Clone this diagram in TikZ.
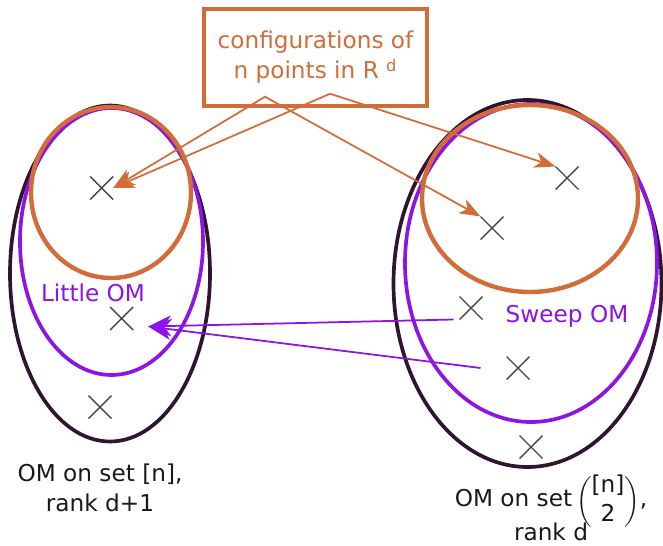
\documentclass[tikz,border=0pt]{standalone}
\usepackage{amsmath}
\usepackage{fontspec}
\setmainfont{DejaVu Sans}
\usetikzlibrary{arrows.meta,shapes.misc}
\definecolor{arancio}{RGB}{210,108,56}
\definecolor{viola}{RGB}{140,20,230}
\definecolor{prugna}{RGB}{48,20,48}
\definecolor{grigio}{RGB}{70,70,70}
\definecolor{testo}{RGB}{25,25,25}

\tikzset{
  punto/.style={cross out, draw=grigio, line width=0.8pt, minimum size=0.46cm, inner sep=0pt, outer sep=0pt},
  freccia/.style={arancio, line width=1pt, {Stealth[length=12pt,width=10pt,inset=3.5pt]}-{Stealth[length=12pt,width=9pt,inset=3.5pt]}},
  frecciaom/.style={viola, line width=1pt, -{Stealth[length=13pt,width=12pt,inset=4pt]}},
  etichetta/.style={font=\fontsize{13.2}{17}\selectfont, align=center, text=testo},
}

\begin{document}
\begin{tikzpicture}[x=0.02cm,y=-0.02cm]
\useasboundingbox (0,0) rectangle (663,545);

% Ellissi a sinistra
\draw[prugna, line width=2.1pt] (110,273.5) ellipse (100 and 168);
\draw[viola, line width=2.1pt] (111.5,241.5) ellipse (91.5 and 133.5);
\draw[arancio, line width=2.5pt] (111,192.5) ellipse (80 and 85.5);

% Ellissi a destra
\draw[prugna, line width=2.1pt] (527.5,283.5) ellipse (134 and 183.5);
\draw[viola, line width=2.1pt] (531,263) ellipse (126 and 159);
\draw[arancio, line width=2.5pt] (530,198.5) ellipse (108 and 93.5);

% Punti
\node[punto] (sa) at (101.7,188) {};
\node[punto] (sb) at (121.7,318.5) {};
\node[punto] (sc) at (100,407) {};
\node[punto] (da) at (567,178) {};
\node[punto] (db) at (492,228) {};
\node[punto] (dc) at (471,308) {};
\node[punto] (dd) at (518,368) {};
\node[punto] (de) at (531,447) {};

% Riquadro delle configurazioni
\node[draw=arancio, line width=2pt, etichetta, text=arancio, minimum width=4.46cm, minimum height=1.94cm] (conf) at (315.5,57.5) {configurations of\\n points in R \textsuperscript{d}};
\coordinate (p1) at ([shift={(-50.5,-11)}]conf.south);
\coordinate (p2) at ([shift={(14.5,-14)}]conf.south);

% Frecce arancio
\draw[freccia] (sa.east) -- (p1) -- (db.north west);
\draw[freccia] (sa.east) -- (p2) -- (da.north west);

% Frecce viola
\coordinate (om) at ([shift={(15,8)}]sb.east);
\draw[frecciaom] ([shift={(-6,0)}]dc.south west) -- (om);
\draw[frecciaom] ([shift={(-26,0)}]dd.west) -- (om);

% Etichette
\node[etichetta, text=viola] (little) at (93,293) {Little OM};
\node[etichetta, text=viola] (sweep) at (567,316) {Sweep OM};
\node[etichetta] (setn) at (100,488) {OM on set [n],\\rank d+1};
\node[etichetta] (setn2) at (551,515) {OM on set\,$\smash{\dbinom{\text{[n]}}{\text{2}}}$,\\[2pt]rank d};
\end{tikzpicture}
\end{document}
